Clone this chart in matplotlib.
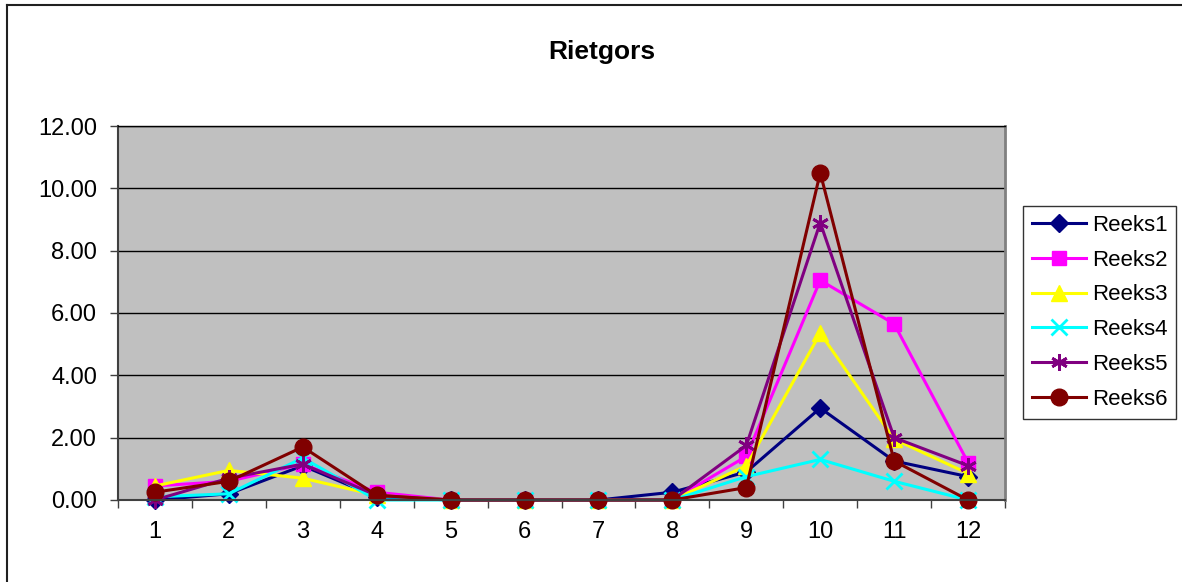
import numpy as np
from matplotlib import pyplot as plt
from matplotlib.lines import Line2D

plt.rcParams['font.family'] = ['Liberation Sans', 'DejaVu Sans']

# ===== Data =====
maanden = list(range(1, 13))
reeks1 = [0.0, 0.2, 1.1, 0.1, 0.0, 0.0, 0.0, 0.25, 0.9, 2.95, 1.25, 0.75]
reeks2 = [0.45, 0.6, 1.15, 0.25, 0.0, 0.0, 0.0, 0.0, 1.4, 7.05, 5.65, 1.2]
reeks3 = [0.45, 0.95, 0.7, 0.15, 0.0, 0.0, 0.0, 0.0, 1.1, 5.35, 1.95, 0.85]
reeks4 = [0.1, 0.2, 1.35, 0.0, 0.0, 0.0, 0.0, 0.0, 0.75, 1.3, 0.6, 0.0]
reeks5 = [0.0, 0.7, 1.15, 0.15, 0.0, 0.0, 0.0, 0.0, 1.75, 8.9, 2.0, 1.1]
reeks6 = [0.25, 0.6, 1.7, 0.15, 0.0, 0.0, 0.0, 0.0, 0.4, 10.5, 1.25, 0.0]

namen = ['Reeks1', 'Reeks2', 'Reeks3', 'Reeks4', 'Reeks5', 'Reeks6']
kleuren = ['#000080', '#FF00FF', '#FFFF00', '#00FFFF', '#800080', '#800000']
markers = ['D', 's', '^', 'x', (6, 2, 0), 'o']
msizes = [9, 10, 11, 11, 12, 12]

# ===== Plot =====
fig = plt.figure(figsize=(11.82, 5.82), dpi=100)
ax = fig.add_axes([0.0998, 0.1409, 0.7505, 0.6426])
ax.set_facecolor('#C0C0C0')

reeksen = [reeks1, reeks2, reeks3, reeks4, reeks5, reeks6]
for y, naam, c, m, ms in zip(reeksen, namen, kleuren, markers, msizes):
    ax.plot(maanden, y, color=c, lw=2.2, marker=m, markersize=ms,
            markeredgewidth=2 if m in ('x', (6, 2, 0)) else 1,
            markeredgecolor=c, markerfacecolor=c, label=naam, clip_on=False)

ax.set_xlim(0.5, 12.5)
ax.set_ylim(0, 12)
ax.set_yticks(np.arange(0, 13, 2))
ax.set_yticklabels(['%.2f' % v for v in np.arange(0, 13, 2)])
ax.set_xticks(maanden)
ax.set_xticks(np.arange(0.5, 13, 1), minor=True)
ax.tick_params(axis='x', which='major', length=0, pad=15, labelsize=17)
ax.tick_params(axis='x', which='minor', length=6, width=1, direction='out', color='#404040')
ax.tick_params(axis='y', length=6, width=1, direction='out', pad=9, labelsize=17, color='#404040')

ax.grid(axis='y', color='black', lw=1)
ax.set_axisbelow(True)
for s in ['left', 'bottom']:
    ax.spines[s].set_color('#404040')
    ax.spines[s].set_linewidth(1.5)
ax.spines['right'].set_color('#808080')
ax.spines['right'].set_linewidth(2)
ax.spines['top'].set_color('black')
ax.spines['top'].set_linewidth(1)

fig.text(0.5095, 0.91, 'Rietgors', ha='center', va='center', fontsize=19, fontweight='bold')

leg = ax.legend(loc='upper left', bbox_to_anchor=(0.8655, 0.646), bbox_transform=fig.transFigure,
                frameon=True, fancybox=False, edgecolor='black', fontsize=16,
                borderaxespad=0, handlelength=2.45, labelspacing=0.62, handletextpad=0.25,
                borderpad=0.4)
leg.get_frame().set_linewidth(1)

# Kader van de grafiek (links en boven, de rest valt buiten beeld)
fig.add_artist(Line2D([0.0063, 0.0063], [0.0, 0.9914], transform=fig.transFigure, color='#202020', lw=1.5))
fig.add_artist(Line2D([0.0063, 1.0], [0.9914, 0.9914], transform=fig.transFigure, color='#202020', lw=1.5))

plt.savefig('out.png', dpi=100)
